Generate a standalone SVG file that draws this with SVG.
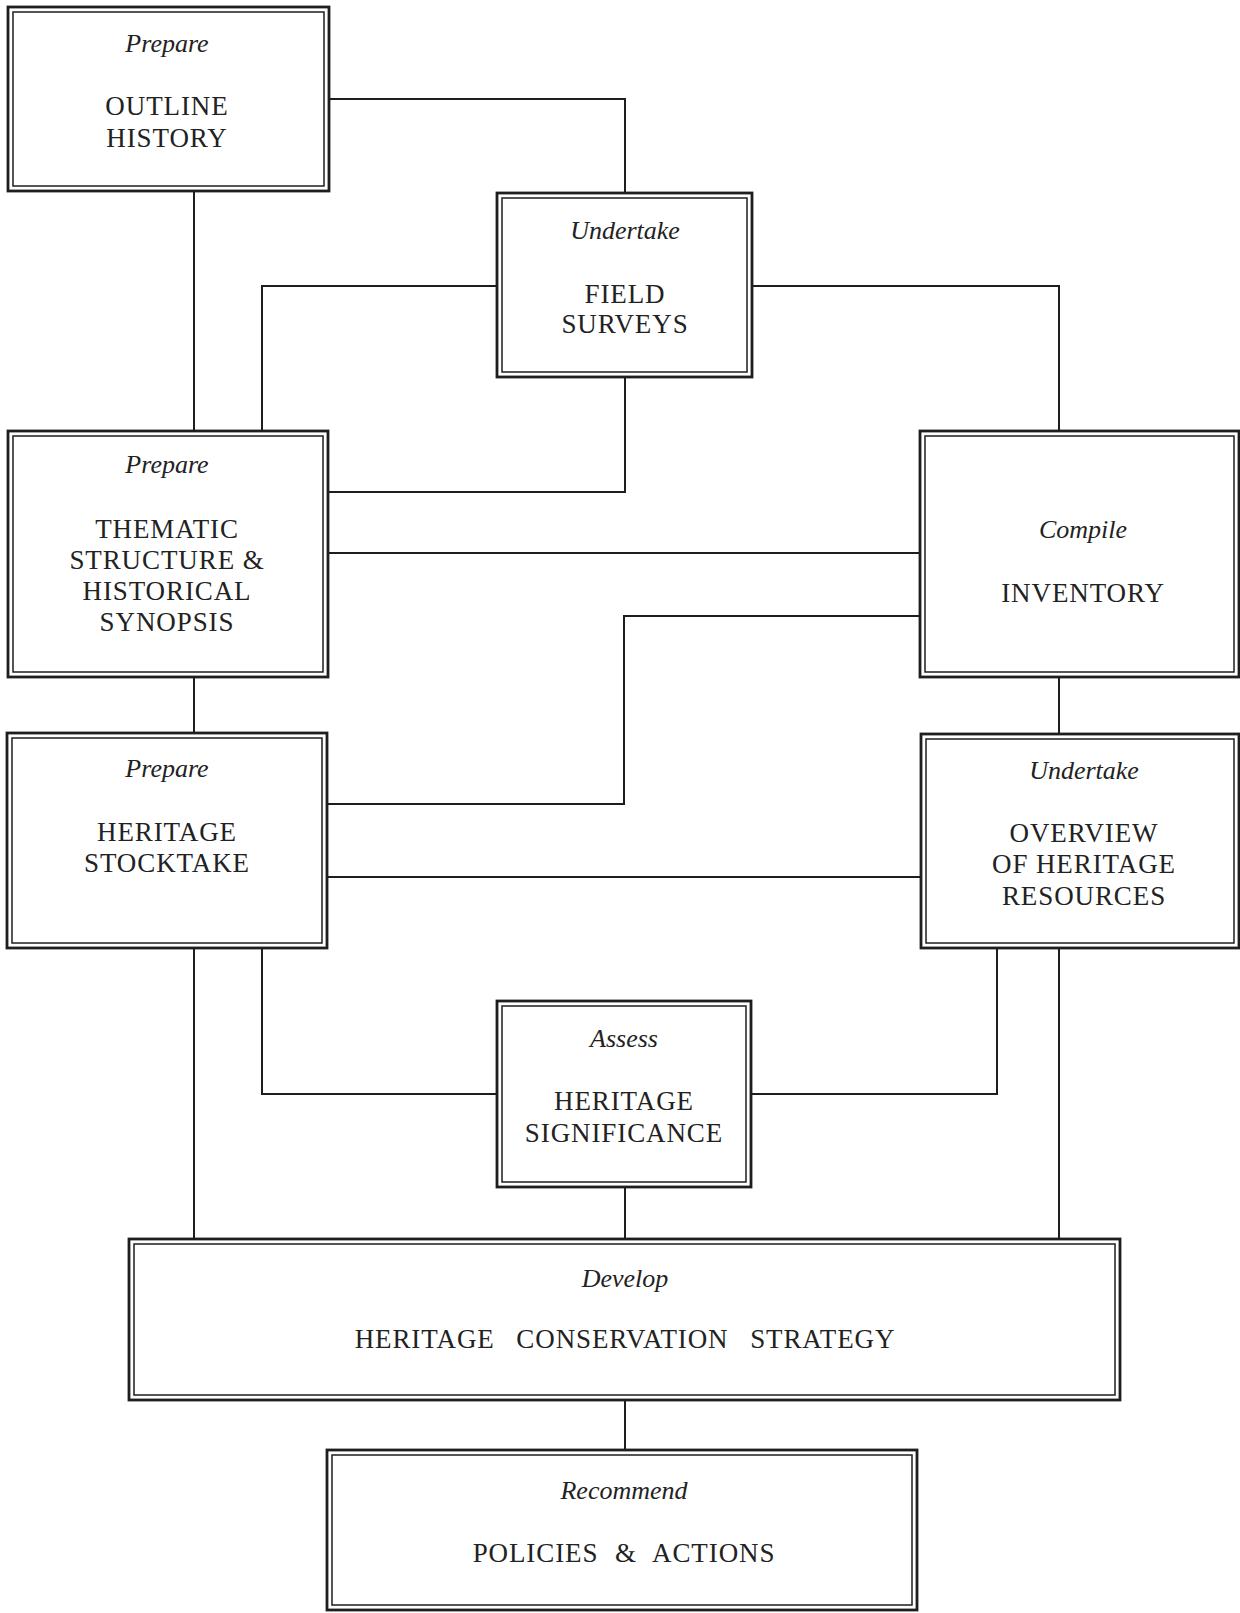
<svg xmlns="http://www.w3.org/2000/svg" width="1240" height="1613" viewBox="0 0 1240 1613">
<style>
.o{fill:#fff;stroke:#1e1e1e;stroke-width:2.8}
.i{fill:none;stroke:#1e1e1e;stroke-width:1.5}
.c{fill:none;stroke:#1e1e1e;stroke-width:2}
.v{font-family:"Liberation Serif","Times New Roman",serif;font-style:italic;font-size:26px;fill:#222;text-anchor:middle}
.t{font-family:"Liberation Serif","Times New Roman",serif;font-size:27px;letter-spacing:0.9px;fill:#222;text-anchor:middle}
</style>
<rect width="1240" height="1613" fill="#fff"/>
<g id="connectors">
<path class="c" d="M329 99H625V193"/>
<path class="c" d="M194 191V431"/>
<path class="c" d="M497 286H262V431"/>
<path class="c" d="M752 286H1059V431"/>
<path class="c" d="M625 377V492H328"/>
<path class="c" d="M328 553H920"/>
<path class="c" d="M920 616H624V804H327"/>
<path class="c" d="M194 677V733"/>
<path class="c" d="M1059 677V734"/>
<path class="c" d="M327 877H921"/>
<path class="c" d="M194 948V1239"/>
<path class="c" d="M262 948V1094H497"/>
<path class="c" d="M997 948V1094H751"/>
<path class="c" d="M1059 948V1239"/>
<path class="c" d="M625 1187V1239"/>
<path class="c" d="M625 1400V1450"/>
</g>
<g id="outline-history">
<rect class="o" x="8" y="7" width="321" height="184"/>
<rect class="i" x="13" y="12" width="311" height="174"/>
<text class="v" x="167" y="52">Prepare</text>
<text class="t" x="167" y="115">OUTLINE</text>
<text class="t" x="167" y="147">HISTORY</text>
</g>
<g id="field-surveys">
<rect class="o" x="497" y="193" width="255" height="184"/>
<rect class="i" x="502" y="198" width="245" height="174"/>
<text class="v" x="625" y="239">Undertake</text>
<text class="t" x="625" y="303">FIELD</text>
<text class="t" x="625" y="333">SURVEYS</text>
</g>
<g id="thematic-structure">
<rect class="o" x="8" y="431" width="320" height="246"/>
<rect class="i" x="13" y="436" width="310" height="236"/>
<text class="v" x="167" y="473">Prepare</text>
<text class="t" x="167" y="538">THEMATIC</text>
<text class="t" x="167" y="569">STRUCTURE &amp;</text>
<text class="t" x="167" y="600">HISTORICAL</text>
<text class="t" x="167" y="631">SYNOPSIS</text>
</g>
<g id="inventory">
<rect class="o" x="920" y="431" width="319" height="246"/>
<rect class="i" x="925" y="436" width="309" height="236"/>
<text class="v" x="1083" y="538">Compile</text>
<text class="t" x="1083" y="602">INVENTORY</text>
</g>
<g id="heritage-stocktake">
<rect class="o" x="7" y="733" width="320" height="215"/>
<rect class="i" x="12" y="738" width="310" height="205"/>
<text class="v" x="167" y="777">Prepare</text>
<text class="t" x="167" y="841">HERITAGE</text>
<text class="t" x="167" y="872">STOCKTAKE</text>
</g>
<g id="overview">
<rect class="o" x="921" y="734" width="318" height="214"/>
<rect class="i" x="926" y="739" width="308" height="204"/>
<text class="v" x="1084" y="779">Undertake</text>
<text class="t" x="1084" y="842">OVERVIEW</text>
<text class="t" x="1084" y="873">OF HERITAGE</text>
<text class="t" x="1084" y="905">RESOURCES</text>
</g>
<g id="assess">
<rect class="o" x="497" y="1001" width="254" height="186"/>
<rect class="i" x="502" y="1006" width="244" height="176"/>
<text class="v" x="624" y="1047">Assess</text>
<text class="t" x="624" y="1110">HERITAGE</text>
<text class="t" x="624" y="1142">SIGNIFICANCE</text>
</g>
<g id="develop">
<rect class="o" x="129" y="1239" width="991" height="161"/>
<rect class="i" x="134" y="1244" width="981" height="151"/>
<text class="v" x="625" y="1287">Develop</text>
<text class="t" x="625" y="1348" word-spacing="14">HERITAGE CONSERVATION STRATEGY</text>
</g>
<g id="policies">
<rect class="o" x="327" y="1450" width="590" height="160"/>
<rect class="i" x="332" y="1455" width="580" height="150"/>
<text class="v" x="624" y="1499">Recommend</text>
<text class="t" x="624" y="1562" word-spacing="9">POLICIES &amp; ACTIONS</text>
</g>
</svg>
